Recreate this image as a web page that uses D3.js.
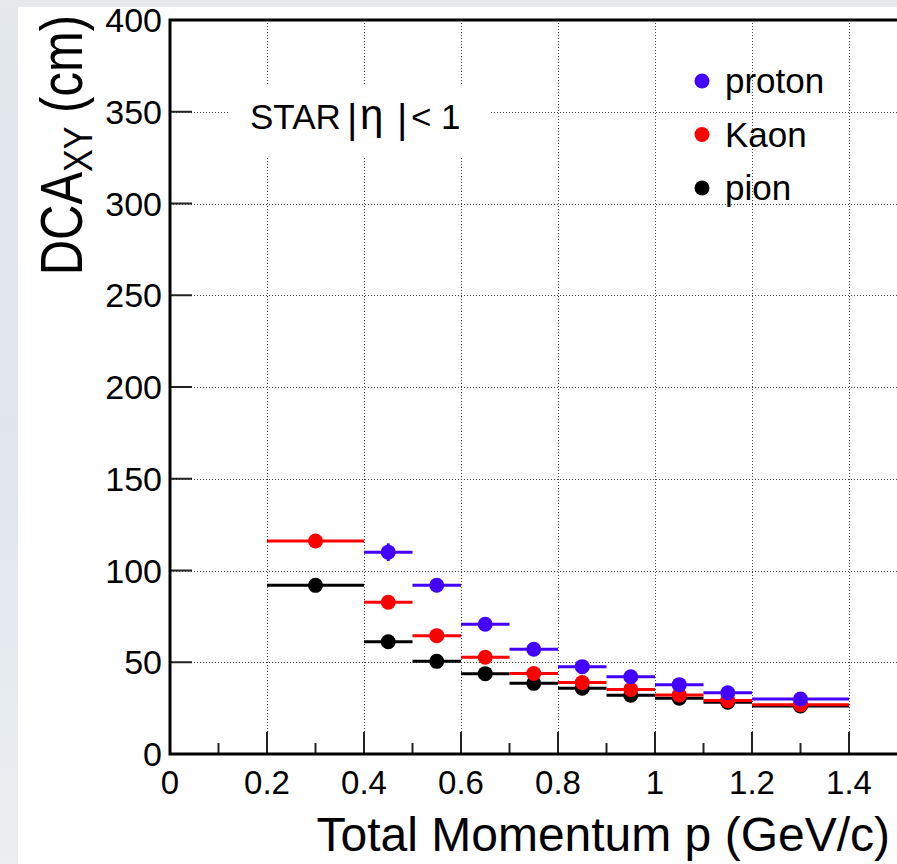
<!DOCTYPE html>
<html>
<head>
<meta charset="utf-8">
<script src="https://cdn.jsdelivr.net/npm/d3@7"></script>
<style>
body { margin: 0; background: #fff; }
text { font-family: "Liberation Sans", Arial, sans-serif; }
</style>
</head>
<body>
<svg id="chart"></svg>
<script>
// bins in total momentum (GeV/c)
var binEdges = [0.2, 0.4, 0.5, 0.6, 0.7, 0.8, 0.9, 1.0, 1.1, 1.2, 1.4];
// DCA_XY values per bin (cm), null = no point
var protonDCA = [null, 110.0, 92.0, 70.7, 57.1, 47.6, 42.1, 37.8, 33.4, 30.0];
var kaonDCA   = [116.1, 82.7, 64.5, 52.7, 43.9, 38.9, 35.2, 32.2, 29.1, 26.9];
var pionDCA   = [91.9, 61.2, 50.5, 43.8, 38.5, 35.8, 32.0, 30.4, 28.2, 26.2];
var protonErr = [null, 4.8, 1.2, 1.0, 0.8, 0.7, 0.6, 0.6, 0.5, 0.4];
var kaonErr   = [1.2, 1.0, 0.8, 0.7, 0.6, 0.5, 0.5, 0.4, 0.4, 0.4];
var pionErr   = [0.8, 0.7, 0.6, 0.5, 0.4, 0.4, 0.4, 0.3, 0.3, 0.3];
var xTicks = [0, 0.2, 0.4, 0.6, 0.8, 1, 1.2, 1.4];
var yTicks = [0, 50, 100, 150, 200, 250, 300, 350, 400];

var width = 897, height = 864;
var svg = d3.select("#chart").attr("width", width).attr("height", height);

// faint backdrop around the canvas
var defs = svg.append("defs");
var grad = defs.append("linearGradient").attr("id", "bgl").attr("x1", 0).attr("x2", 0).attr("y1", 0).attr("y2", 1);
grad.append("stop").attr("offset", "0%").attr("stop-color", "#e4e8ec");
grad.append("stop").attr("offset", "50%").attr("stop-color", "#dfe6ee");
grad.append("stop").attr("offset", "100%").attr("stop-color", "#eceff1");
svg.append("rect").attr("x", 0).attr("y", 0).attr("width", 18).attr("height", height).attr("fill", "url(#bgl)");
svg.append("rect").attr("x", 0).attr("y", 0).attr("width", width).attr("height", 7).attr("fill", "#e6e8ea");

var x = d3.scaleLinear().domain([0, 1.5]).range([170, 897.5]);
var y = d3.scaleLinear().domain([0, 400]).range([754, 20]);

// grid
var grid = svg.append("g").attr("stroke", "#444").attr("stroke-width", 1).attr("stroke-dasharray", "1,2");
grid.selectAll(".gx").data(xTicks.filter(function(d) { return d > 0; }))
  .enter().append("line")
  .attr("x1", function(d) { return Math.round(x(d)) + 0.5; })
  .attr("x2", function(d) { return Math.round(x(d)) + 0.5; })
  .attr("y1", y(400)).attr("y2", y(0));
grid.selectAll(".gy").data(yTicks.filter(function(d) { return d > 0 && d < 400; }))
  .enter().append("line")
  .attr("y1", function(d) { return Math.round(y(d)) + 0.5; })
  .attr("y2", function(d) { return Math.round(y(d)) + 0.5; })
  .attr("x1", x(0)).attr("x2", width);

// label box (white fill hides the grid)
svg.append("rect").attr("x", 228).attr("y", 85).attr("width", 262).attr("height", 72).attr("fill", "#fff");
var star = svg.append("g").attr("font-size", 35);
star.append("text").attr("x", 250).attr("y", 129).text("STAR");
star.append("text").attr("x", 347).attr("y", 133).attr("font-size", 40).text("|");
star.append("text").attr("x", 360).attr("y", 129).attr("font-family", "DejaVu Serif, serif")
  .attr("font-size", 42).text("\u03b7");
star.append("text").attr("x", 397).attr("y", 133).attr("font-size", 40).text("|");
star.append("text").attr("x", 411).attr("y", 129).text("<");
star.append("text").attr("x", 441).attr("y", 129).text("1");

// ticks
var ticks = svg.append("g").attr("stroke", "#222").attr("stroke-width", 2);
ticks.selectAll(".tx").data(d3.range(1, 15).map(function(i) { return i / 10; }))
  .enter().append("line")
  .attr("x1", function(d) { return x(d); }).attr("x2", function(d) { return x(d); })
  .attr("y1", y(0))
  .attr("y2", function(d, i) { return y(0) - (i % 2 === 1 ? 22 : 11); });
ticks.selectAll(".ty").data(yTicks.filter(function(d) { return d > 0 && d < 400; }))
  .enter().append("line")
  .attr("y1", function(d) { return y(d); }).attr("y2", function(d) { return y(d); })
  .attr("x1", x(0)).attr("x2", x(0) + 22);

// frame
svg.append("path")
  .attr("d", "M" + width + "," + y(400) + "H" + x(0) + "V" + y(0) + "H" + width)
  .attr("fill", "none").attr("stroke", "#000").attr("stroke-width", 3);

// tick labels
svg.selectAll(".lx").data(xTicks).enter().append("text")
  .attr("x", function(d) { return x(d); }).attr("y", 794)
  .attr("text-anchor", "middle").attr("font-size", 33)
  .text(function(d) { return d; });
svg.selectAll(".ly").data(yTicks).enter().append("text")
  .attr("x", 162).attr("y", function(d) { return y(d) + 12; })
  .attr("text-anchor", "end").attr("font-size", 34)
  .text(function(d) { return d; });

// axis titles
svg.append("text").attr("x", 890).attr("y", 851).attr("text-anchor", "end")
  .attr("font-size", 48).text("Total Momentum p (GeV/c)");
var yt = svg.append("text").attr("transform", "translate(82,15) rotate(-90) scale(1,1.2)")
  .attr("text-anchor", "end").attr("font-size", 49);
yt.append("tspan").text("DCA");
yt.append("tspan").attr("font-size", 34).attr("dy", 8).text("XY");
yt.append("tspan").attr("dy", -8).text(" (cm)");

// data series, drawn pion first so proton sits on top
var series = [
  {name: "pion", color: "#000000", vals: pionDCA, errs: pionErr},
  {name: "Kaon", color: "#ff0000", vals: kaonDCA, errs: kaonErr},
  {name: "proton", color: "#4400ff", vals: protonDCA, errs: protonErr}
];

series.forEach(function(s) {
  var pts = s.vals.map(function(v, i) {
    return {lo: binEdges[i], hi: binEdges[i + 1], c: (binEdges[i] + binEdges[i + 1]) / 2, v: v, e: s.errs[i]};
  }).filter(function(d) { return d.v !== null; });
  var g = svg.append("g");
  g.selectAll(".h").data(pts).enter().append("line")
    .attr("x1", function(d) { return x(d.lo); }).attr("x2", function(d) { return x(d.hi); })
    .attr("y1", function(d) { return y(d.v); }).attr("y2", function(d) { return y(d.v); })
    .attr("stroke", s.color).attr("stroke-width", 3);
  g.selectAll(".v").data(pts).enter().append("line")
    .attr("x1", function(d) { return x(d.c); }).attr("x2", function(d) { return x(d.c); })
    .attr("y1", function(d) { return y(d.v - d.e); }).attr("y2", function(d) { return y(d.v + d.e); })
    .attr("stroke", s.color).attr("stroke-width", 3);
  g.selectAll("circle").data(pts).enter().append("circle")
    .attr("cx", function(d) { return x(d.c); }).attr("cy", function(d) { return y(d.v); })
    .attr("r", 7.5).attr("fill", s.color);
});

// legend
var legendItems = [series[2], series[1], series[0]];
var leg = svg.append("g");
leg.selectAll("circle").data(legendItems).enter().append("circle")
  .attr("cx", 702).attr("cy", function(d, i) { return 81 + i * 53.5; })
  .attr("r", 7.5).attr("fill", function(d) { return d.color; });
leg.selectAll("text").data(legendItems).enter().append("text")
  .attr("x", 725).attr("y", function(d, i) { return 81 + i * 53.5 + 12; })
  .attr("font-size", 35).text(function(d) { return d.name; });
</script>
</body>
</html>
